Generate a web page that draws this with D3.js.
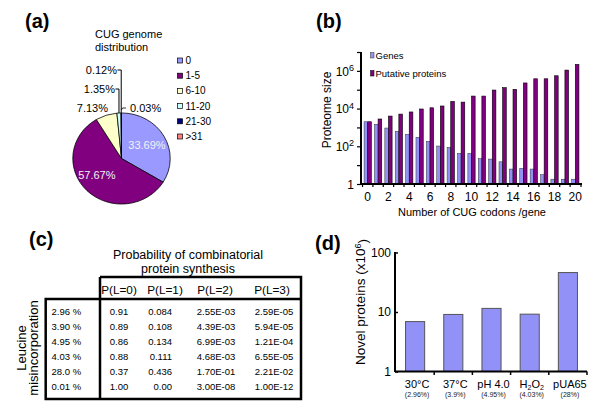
<!DOCTYPE html>
<html><head><meta charset="utf-8">
<script src="https://cdn.jsdelivr.net/npm/d3@7"></script>
<style>
body{margin:0;background:#fff}
svg text{font-family:"Liberation Sans",Arial,Helvetica,sans-serif;fill:#000}
</style>
</head><body>
<svg id="chart" width="600" height="407"></svg>
<script>
// ---------- data ----------
const pieCategories = ["0", "1-5", "6-10", "11-20", "21-30", ">31"];
const pieValues = [33.69, 57.67, 7.13, 1.35, 0.12, 0.03];
const pieLabels = ["33.69%", "57.67%", "7.13%", "1.35%", "0.12%", "0.03%"];
const pieColors = ["#9999ff", "#800080", "#ffffcc", "#ccffff", "#000080", "#ff8080"];

const codonCategories = [0,1,2,3,4,5,6,7,8,9,10,11,12,13,14,15,16,17,18,19,20];
const geneCounts = [2000,1470,930,620,430,300,183,103,88,42,42,22,21,15,6.2,6.8,6.2,3.1,1.8,1.8,1.8];
const proteinCounts = [2000,2800,4000,5100,6600,9500,11000,13700,24000,22000,46000,46000,96000,128000,105000,228000,380000,380000,550000,1100000,2200000];
const proteomeTickValues = [1,10,100,1000,1e4,1e5,1e6,1e7];
const proteomeTickLabels = {1:"1", 100:"2", 10000:"4", 1000000:"6"};
const codonTickLabels = [0,2,4,6,8,10,12,14,16,18,20];

const tableColumns = ["P(L=0)", "P(L=1)", "P(L=2)", "P(L=3)"];
const tableRowLabels = ["2.96 %", "3.90 %", "4.95 %", "4.03 %", "28.0 %", "0.01 %"];
const pL0 = ["0.91", "0.89", "0.86", "0.88", "0.37", "1.00"];
const pL1 = ["0.084", "0.108", "0.134", "0.111", "0.436", "0.00"];
const pL2 = ["2.55E-03", "4.39E-03", "6.99E-03", "4.68E-03", "1.70E-01", "3.00E-08"];
const pL3 = ["2.59E-05", "5.94E-05", "1.21E-04", "6.55E-05", "2.21E-02", "1.00E-12"];

const conditions = ["30°C", "37°C", "pH 4.0", "H2O2", "pUA65"];
const conditionRates = ["(2.96%)", "(3.9%)", "(4.95%)", "(4.03%)", "(28%)"];
const novelProteins = [6.9, 9.1, 11.5, 9.2, 46];
const novelTicks = [1, 10, 100];

// ---------- drawing ----------
const svg = d3.select("#chart");
const BLUE = "#9191f7", PURPLE = "#800080";

function panelLetter(t, x, y) {
  svg.append("text").attr("x", x).attr("y", y).attr("font-size", 20)
    .attr("font-weight", "bold").text(t);
}
panelLetter("(a)", 25, 28);
panelLetter("(b)", 316, 28);
panelLetter("(c)", 29, 245.5);
panelLetter("(d)", 315, 249.5);

// ===== (a) pie =====
{
  const cx = 121.5, cy = 158.5, r = 48.7, sy = 0.935;
  const g = svg.append("g").attr("transform", `translate(${cx},${cy}) scale(1,${sy})`);
  const pie = d3.pie().sort(null).value(d => d)(pieValues);
  const arc = d3.arc().innerRadius(0).outerRadius(r);
  g.selectAll("path").data(pie).join("path")
    .attr("d", arc).attr("fill", (d, i) => pieColors[i])
    .attr("stroke", "#000").attr("stroke-width", 0.8);

  // inner labels
  const inArc = d3.arc().innerRadius(r * 0.6).outerRadius(r * 0.6);
  [0, 1].forEach(i => {
    const c = inArc.centroid(pie[i]);
    svg.append("text").attr("x", cx + c[0] + (i === 1 ? -4 : 0)).attr("y", cy + c[1] * sy + (i === 1 ? -3 : 0))
      .attr("text-anchor", "middle").attr("dy", "0.35em").attr("font-size", 11)
      .style("fill", "#f2f2f2").text(pieLabels[i]);
  });

  // outer labels
  const edge = i => {
    const a = (pie[i].startAngle + pie[i].endAngle) / 2;
    return [cx + r * Math.sin(a), cy - r * Math.cos(a) * sy];
  };
  const outer = [
    {i: 2, x: 108, y: 108, anchor: "end"},
    {i: 3, x: 115, y: 89, anchor: "end"},
    {i: 4, x: 117, y: 70, anchor: "end"},
    {i: 5, x: 130, y: 108, anchor: "start"}
  ];
  outer.forEach(o => {
    svg.append("text").attr("x", o.x).attr("y", o.y).attr("dy", "0.35em")
      .attr("text-anchor", o.anchor).attr("font-size", 11).text(pieLabels[o.i]);
  });
  // leader lines
  const e3 = edge(3), e4 = edge(4), e5 = edge(5);
  svg.append("path").attr("d", `M115.5,89H${e3[0]}V${e3[1]}`).attr("fill", "none").attr("stroke", "#000").attr("stroke-width", 1);
  svg.append("path").attr("d", `M117.5,70H${e4[0]}V${e4[1]}`).attr("fill", "none").attr("stroke", "#000").attr("stroke-width", 1);
  svg.append("path").attr("d", `M${e5[0]},${e5[1] - 3}L${e5[0] + 1},108H126`).attr("fill", "none").attr("stroke", "#000").attr("stroke-width", 0.8);

  // title
  svg.append("text").attr("x", 95).attr("y", 38).attr("font-size", 11).text("CUG genome");
  svg.append("text").attr("x", 95).attr("y", 51).attr("font-size", 11).text("distribution");

  // legend
  pieCategories.forEach((c, i) => {
    const y = 60.5 + i * 15.2;
    svg.append("rect").attr("x", 177.5).attr("y", y - 2.5).attr("width", 5).attr("height", 5)
      .attr("fill", pieColors[i]).attr("stroke", "#000").attr("stroke-width", 0.7);
    svg.append("text").attr("x", 185.5).attr("y", y).attr("dy", "0.35em").attr("font-size", 10).text(c);
  });
}

// ===== (b) bars (log) =====
{
  const x = d3.scaleBand().domain(codonCategories).range([362, 581]).paddingInner(0.3).paddingOuter(0.2);
  const sub = d3.scaleBand().domain(["genes", "proteins"]).range([0, x.bandwidth()]);
  const y = d3.scaleLog().domain([1, 1e7]).range([184, 52]);
  const g = svg.append("g");
  g.selectAll("rect.gn").data(codonCategories).join("rect").attr("class", "gn")
    .attr("x", d => x(d) + sub("genes")).attr("width", sub.bandwidth())
    .attr("y", (d, i) => y(geneCounts[i])).attr("height", (d, i) => y(1) - y(geneCounts[i]))
    .attr("fill", BLUE).attr("stroke", "#333").attr("stroke-width", 0.5);
  g.selectAll("rect.pr").data(codonCategories).join("rect").attr("class", "pr")
    .attr("x", d => x(d) + sub("proteins")).attr("width", sub.bandwidth())
    .attr("y", (d, i) => y(proteinCounts[i])).attr("height", (d, i) => y(1) - y(proteinCounts[i]))
    .attr("fill", PURPLE).attr("stroke", "#000").attr("stroke-width", 0.6);

  const ya = svg.append("g").attr("transform", "translate(361,0)")
    .call(d3.axisLeft(y).tickValues(proteomeTickValues).tickSize(4).tickPadding(3).tickFormat(() => ""));
  ya.select(".domain").attr("stroke-width", 2);
  ya.selectAll(".tick line").attr("stroke-width", 1.2);
  ya.selectAll(".tick").each(function(d) {
    const lab = proteomeTickLabels[d];
    if (lab === undefined) return;
    const t = d3.select(this).append("text").attr("x", -7).attr("dy", "0.35em")
      .attr("text-anchor", "end").attr("font-size", 12).style("fill", "#000");
    if (d === 1) t.text("1");
    else { t.text("10"); t.append("tspan").attr("dy", "-0.5em").attr("font-size", 9).text(lab); }
  });
  ya.selectAll(".domain").attr("d", "M0,52V184");

  const xa = svg.append("g").attr("transform", "translate(0,184)")
    .call(d3.axisBottom(x).tickValues(codonTickLabels).tickSize(0).tickPadding(8));
  xa.select(".domain").attr("d", "M361,0H582").attr("stroke-width", 2);
  xa.selectAll(".tick text").attr("font-size", 12).attr("font-family", "Liberation Sans, Arial, sans-serif");
  // boundary ticks
  const bounds = codonCategories.map(d => x(d) - x.step() * x.paddingInner() / 2).concat([581]);
  xa.selectAll("line.bt").data(bounds).join("line").attr("class", "bt")
    .attr("x1", d => d).attr("x2", d => d).attr("y1", 0).attr("y2", 3)
    .attr("stroke", "#000").attr("stroke-width", 1.2);

  svg.append("text").attr("x", 472).attr("y", 216).attr("text-anchor", "middle").attr("font-size", 11)
    .text("Number of CUG codons /gene");
  svg.append("text").attr("transform", "translate(331,110) rotate(-90)").attr("text-anchor", "middle")
    .attr("font-size", 12).text("Proteome size");

  // legend
  svg.append("rect").attr("x", 370.5).attr("y", 52.5).attr("width", 3.5).attr("height", 5.5)
    .attr("fill", BLUE).attr("stroke", "#333").attr("stroke-width", 0.5);
  svg.append("text").attr("x", 375.5).attr("y", 55.5).attr("dy", "0.35em").attr("font-size", 9.5).text("Genes");
  svg.append("rect").attr("x", 370.5).attr("y", 70.5).attr("width", 3.5).attr("height", 5.5)
    .attr("fill", PURPLE).attr("stroke", "#000").attr("stroke-width", 0.5);
  svg.append("text").attr("x", 375.5).attr("y", 73.5).attr("dy", "0.35em").attr("font-size", 9.5).text("Putative proteins");
}

// ===== (c) table =====
{
  svg.append("text").attr("x", 188).attr("y", 259).attr("text-anchor", "middle").attr("font-size", 12.5)
    .text("Probability of combinatorial");
  svg.append("text").attr("x", 188).attr("y", 272.5).attr("text-anchor", "middle").attr("font-size", 12.5)
    .text("protein synthesis");

  const L = 45.7, M = 100, R = 301, T = 277, H = 299, B = 399;
  svg.append("path").attr("d",
    `M${M},${T}H${R}V${B}H${L}V${H}H${R}M${M},${T}V${B}`)
    .attr("fill", "none").attr("stroke", "#000").attr("stroke-width", 2.5);

  const colX = [119, 165, 215, 272];
  tableColumns.forEach((c, i) => {
    svg.append("text").attr("x", colX[i]).attr("y", 289.5).attr("dy", "0.35em")
      .attr("text-anchor", "middle").attr("font-size", 11.8).text(c);
  });
  const rowY = i => 311.3 + i * 15.1;
  const cols = [
    {data: pL0, x: 119, anchor: "middle"},
    {data: pL1, x: 172, anchor: "end"},
    {data: pL2, x: 216, anchor: "middle"},
    {data: pL3, x: 274, anchor: "middle"}
  ];
  tableRowLabels.forEach((r, i) => {
    svg.append("text").attr("x", 51.5).attr("y", rowY(i)).attr("dy", "0.35em").attr("font-size", 9.5).text(r);
    cols.forEach(c => {
      svg.append("text").attr("x", c.x).attr("y", rowY(i)).attr("dy", "0.35em")
        .attr("text-anchor", c.anchor).attr("font-size", 9.5).text(c.data[i]);
    });
  });
  svg.append("text").attr("transform", "translate(26,348) rotate(-90)").attr("text-anchor", "middle")
    .attr("font-size", 13).text("Leucine");
  svg.append("text").attr("transform", "translate(38,348) rotate(-90)").attr("text-anchor", "middle")
    .attr("font-size", 13).text("misincorporation");
}

// ===== (d) bars =====
{
  const x = d3.scaleBand().domain(conditions).range([396, 587]).paddingInner(0.5).paddingOuter(0.25);
  const y = d3.scaleLog().domain([1, 100]).range([371.5, 252.5]);
  svg.append("g").selectAll("rect").data(conditions).join("rect")
    .attr("x", d => x(d)).attr("width", x.bandwidth())
    .attr("y", (d, i) => y(novelProteins[i])).attr("height", (d, i) => y(1) - y(novelProteins[i]))
    .attr("fill", BLUE).attr("stroke", "#555").attr("stroke-width", 1);

  const ya = svg.append("g").attr("transform", "translate(395,0)")
    .call(d3.axisLeft(y).tickValues(novelTicks).tickSize(-3).tickPadding(4).tickFormat(d3.format("d")));
  ya.select(".domain").attr("d", "M0,252V372").attr("stroke-width", 2);
  ya.selectAll(".tick line").attr("stroke-width", 1.5);
  ya.selectAll(".tick text").attr("font-size", 12).attr("font-family", "Liberation Sans, Arial, sans-serif");

  const xa = svg.append("g").attr("transform", "translate(0,371.5)")
    .call(d3.axisBottom(x).tickSize(0).tickFormat(""));
  xa.select(".domain").attr("d", "M395,0H587").attr("stroke-width", 2);
  const bounds = conditions.slice(1).map(d => x(d) - x.step() * x.paddingInner() / 2).concat([587]);
  xa.selectAll("line.bt").data(bounds).join("line").attr("class", "bt")
    .attr("x1", d => d).attr("x2", d => d).attr("y1", 0).attr("y2", 3.5)
    .attr("stroke", "#000").attr("stroke-width", 1.5);

  conditions.forEach((c, i) => {
    const cxp = x(c) + x.bandwidth() / 2 + 2;
    const t = svg.append("text").attr("x", cxp).attr("y", 387.5).attr("text-anchor", "middle").attr("font-size", 11);
    if (c === "H2O2") {
      t.append("tspan").text("H");
      t.append("tspan").attr("font-size", 7).attr("dy", 2).text("2");
      t.append("tspan").attr("dy", -2).text("O");
      t.append("tspan").attr("font-size", 7).attr("dy", 2).text("2");
    } else t.text(c);
    svg.append("text").attr("x", cxp).attr("y", 396.5).attr("text-anchor", "middle")
      .attr("font-size", 7).style("fill", "#222").text(conditionRates[i]);
  });

  const yl = svg.append("text").attr("transform", "translate(365,302) rotate(-90)")
    .attr("text-anchor", "middle").attr("font-size", 13.5);
  yl.append("tspan").text("Novel proteins (x10");
  yl.append("tspan").attr("font-size", 9).attr("dy", "-0.5em").text("6");
  yl.append("tspan").attr("dy", "0.5em").text(")");
}
</script>
</body></html>
